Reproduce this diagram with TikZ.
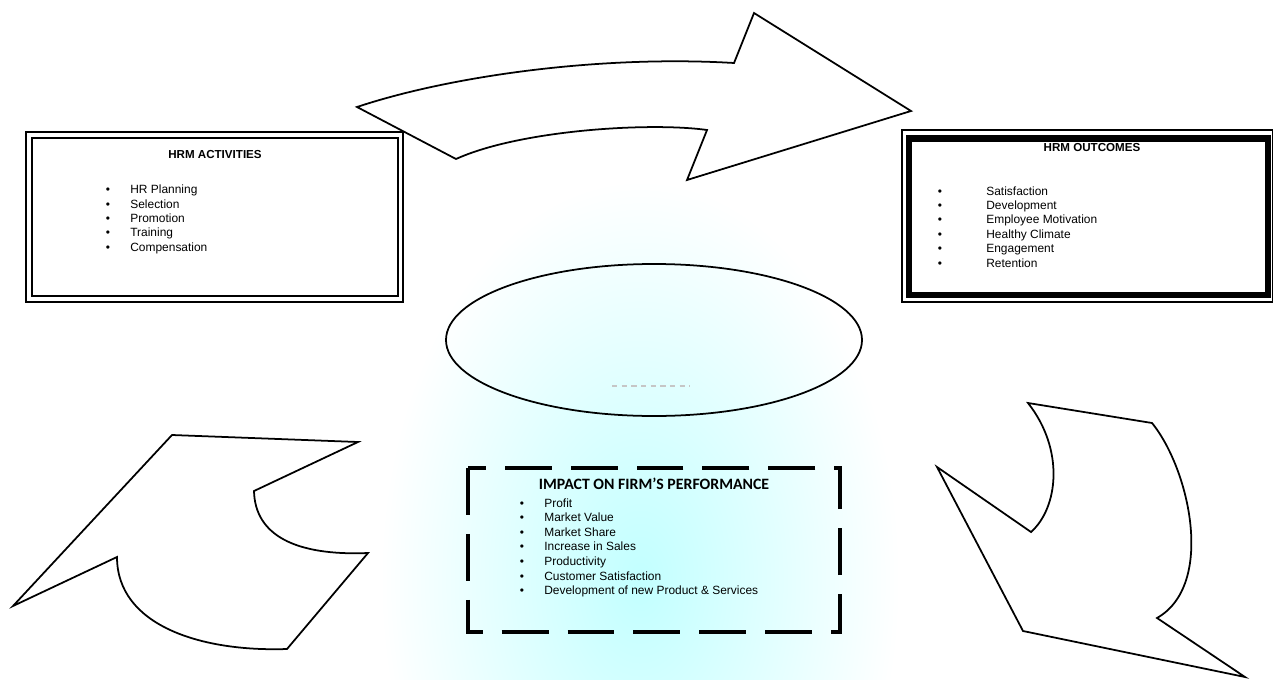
\documentclass[tikz,border=0pt]{standalone}
\usepackage{fontspec}
\setmainfont{Liberation Sans}
\newfontfamily\impactfont{Carlito}

\tikzset{
	shapeline/.style={draw=black, line width=1pt, fill=white, line join=miter},
	boxtitle/.style={inner sep=0pt, font=\bfseries\fontsize{6.6}{8}\selectfont},
	itemtext/.style={anchor=west, inner sep=0pt, text height=0.7em, text depth=0.2em, font=\fontsize{6.8}{8}\selectfont},
	itembullet/.style={inner sep=0pt, text height=0.7em, text depth=0.2em, font=\fontsize{6.8}{8}\selectfont},
	impactframe/.style={line width=2.8pt, dash pattern=on 26.7pt off 10.8pt, line join=miter}
}

\begin{document}
\begin{tikzpicture}[x=0.02cm, y=-0.02cm]
		\useasboundingbox (0, 0) rectangle (1273, 679);

		% faint watermark behind the middle
		\shade[inner color=cyan!24, outer color=white] (380, 180) rectangle (900, 980);

		% top arrow
		\draw[shapeline] (357, 107) .. controls (450, 76) and (600, 55) .. (734, 63)
			-- (754, 13) -- (911, 111) -- (687, 180) -- (707, 130)
			.. controls (650, 122) and (520, 130) .. (456, 159) -- cycle;

		% lower left arrow
		\draw[shapeline] (172, 435) -- (358, 442) -- (254, 491)
			.. controls (255, 535) and (295, 556) .. (368, 553) -- (287, 649)
			.. controls (200, 652) and (117, 625) .. (117, 557) -- (13, 606) -- cycle;

		% lower right arrow
		\draw[shapeline] (1028, 403) -- (1152, 423)
			.. controls (1190, 470) and (1215, 585) .. (1157, 618)
			-- (1245, 677) -- (1023, 631) -- (937, 467) -- (1031, 532)
			.. controls (1058, 508) and (1065, 450) .. (1028, 403) -- cycle;

		% HRM activities
		\draw[line width=1.1pt] (26, 132) rectangle (403, 302);
		\draw[line width=1.5pt] (32, 138) rectangle (398, 296);
		\node[boxtitle] (acttitle) at (215, 155) {HRM ACTIVITIES};
		\foreach \t [count=\i] in {HR Planning, Selection, Promotion, Training, Compensation} {
			\node[itembullet] (actb\i) at (108, {189.3 + 14.4*(\i-1)}) {•};
			\node[itemtext] (act\i) at (130, {189.3 + 14.4*(\i-1)}) {\t};
		}

		% HRM outcomes
		\draw[line width=0.8pt] (902, 130) rectangle (1273, 302);
		\draw[line width=3.6pt] (909, 138.5) rectangle (1268, 295);
		\node[boxtitle] (outtitle) at (1092, 148) {HRM OUTCOMES};
		\foreach \t [count=\i] in {Satisfaction, Development, Employee Motivation, Healthy Climate, Engagement, Retention} {
			\node[itembullet] (outb\i) at (940, {190.7 + 14.4*(\i-1)}) {•};
			\node[itemtext] (out\i) at (986, {190.7 + 14.4*(\i-1)}) {\t};
		}

		% middle ellipse
		\draw[line width=1pt] (654, 340) ellipse [x radius=208, y radius=76];
		\draw[gray!45, line width=0.6pt, dash pattern=on 3pt off 2.5pt] (612, 386) -- (690, 386);

		% impact on performance
		\draw[impactframe] (468, 468) rectangle (840, 632);
		\node[inner sep=0pt, font=\impactfont\bfseries\fontsize{9}{10}\selectfont] (imptitle) at (654, 484) {IMPACT ON FIRM’S PERFORMANCE};
		\foreach \t [count=\i] in {Profit, Market Value, Market Share, Increase in Sales, Productivity, Customer Satisfaction, Development of new Product \& Services} {
			\node[itembullet] (impb\i) at (522, {502.7 + 14.6*(\i-1)}) {•};
			\node[itemtext] (imp\i) at (544, {502.7 + 14.6*(\i-1)}) {\t};
		}
	\end{tikzpicture}
\end{document}
